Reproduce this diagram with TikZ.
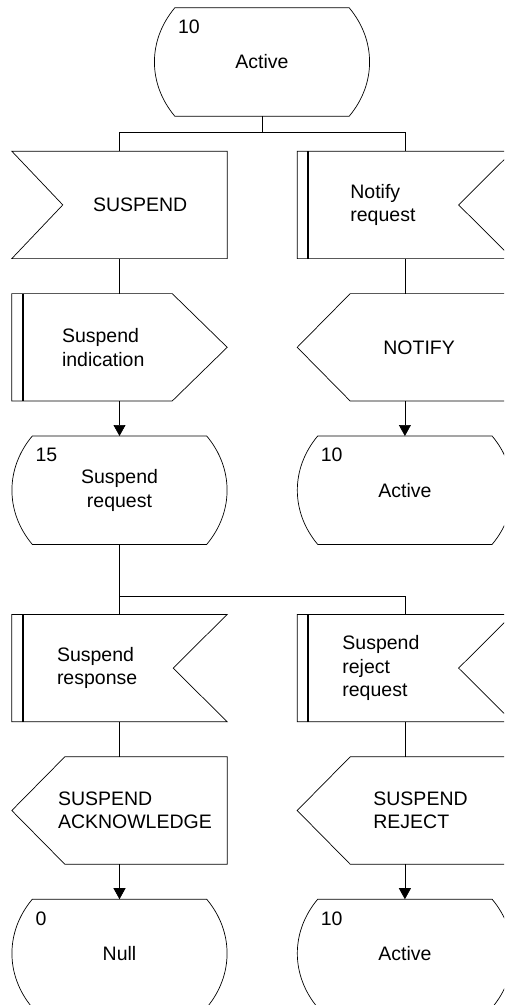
\documentclass[tikz,border=0pt]{standalone}
\usepackage{fontspec}
\setmainfont{Liberation Sans}
\usepackage{tikz}
\usetikzlibrary{arrows.meta, positioning}
\hyphenpenalty=10000

\begin{document}
\begin{tikzpicture}[
    x=1pt, y=1pt,
    node distance=35pt,
    sig/.style={rectangle, minimum width=215pt, minimum height=107pt,
                inner sep=0pt, align=left, font=\fontsize{19.5pt}{23.5pt}\selectfont},
    sdlstate/.style={sig, minimum width=214pt, minimum height=108pt, align=center,
                label={[stnum]north west:#1}},
    stnum/.style={anchor=north west, inner sep=0pt, xshift=23pt, yshift=-12pt,
                font=\fontsize{19.5pt}{23.5pt}\selectfont},
    outl/.style={draw=black, line width=0.7pt},
    dbar/.style={draw=black, line width=1.8pt},
    wire/.style={line width=0.7pt},
    arr/.style={-{Triangle[length=11pt, width=12pt]}, line width=0.7pt}
]
\useasboundingbox (0,0) rectangle (504,-1005);
\clip (0,0) rectangle (504,-1005);

% states and signals
\node[sdlstate=10] (act) at (262,-62) {Active};
\node[sig, below=of act, xshift=-142.5pt, text width=53pt] (susp) {SUSPEND};
\node[sig, right=70pt of susp, text width=109pt] (notreq) {Notify\\request};
\node[sig, below=of susp, text width=115pt] (supind) {Suspend\\indication};
\node[sig, below=of notreq, text width=43pt] (notify) {NOTIFY};
\node[sdlstate=15, below=of supind] (st15) {Suspend\\request};
\node[sdlstate=10, below=of notify] (act2) {Active};
\node[sig, below=70pt of st15, text width=125pt] (supresp) {Suspend\\response};
\node[sig, right=70pt of supresp, text width=125pt] (rejreq) {Suspend\\reject\\request};
\node[sig, below=of supresp, text width=123pt] (ack) {SUSPEND\\ACKNOWLEDGE};
\node[sig, below=of rejreq, text width=63pt] (rej) {SUSPEND\\REJECT};
\node[sdlstate=0, below=of ack] (nullst) {Null};
\node[sdlstate=10, below=of rej] (act3) {Active};

% symbol outlines
\foreach \n in {act, st15, act2, nullst, act3}
  \draw[outl] ([xshift=20pt]\n.north west) -- ([xshift=-20pt]\n.north east)
    to[bend left=40] ([xshift=-20pt]\n.south east) -- ([xshift=20pt]\n.south west)
    to[bend left=40] ([xshift=20pt]\n.north west) -- cycle;
\draw[outl] (susp.north west) -- (susp.north east) -- (susp.south east)
  -- (susp.south west) -- ([xshift=51pt]susp.west) -- cycle;
\foreach \n in {notreq, supresp, rejreq}
  \draw[outl] (\n.north west) -- (\n.north east) -- ([xshift=-54pt]\n.east)
    -- (\n.south east) -- (\n.south west) -- cycle;
\draw[outl] (supind.north west) -- ([xshift=-55pt]supind.north east) -- (supind.east)
  -- ([xshift=-55pt]supind.south east) -- (supind.south west) -- cycle;
\foreach \n in {notify, ack, rej}
  \draw[outl] ([xshift=53pt]\n.north west) -- (\n.north east) -- (\n.south east)
    -- ([xshift=53pt]\n.south west) -- (\n.west) -- cycle;
\foreach \n in {notreq, supind, supresp, rejreq}
  \draw[dbar] ([xshift=11pt]\n.north west) -- ([xshift=11pt]\n.south west);

% connectors
\draw[wire] (act.south) -- ++(0,-16) coordinate (fork1);
\draw[wire] (susp.north) |- (fork1) -| (notreq.north);
\draw[wire] (susp.south) -- (supind.north);
\draw[wire] (notreq.south) -- (notify.north);
\draw[arr] (supind.south) -- (st15.north);
\draw[arr] (notify.south) -- (act2.north);
\draw[wire] (st15.south) -- ++(0,-52) coordinate (fork2) -- (supresp.north);
\draw[wire] (fork2) -| (rejreq.north);
\draw[wire] (supresp.south) -- (ack.north);
\draw[wire] (rejreq.south) -- (rej.north);
\draw[arr] (ack.south) -- (nullst.north);
\draw[arr] (rej.south) -- (act3.north);
\end{tikzpicture}
\end{document}
